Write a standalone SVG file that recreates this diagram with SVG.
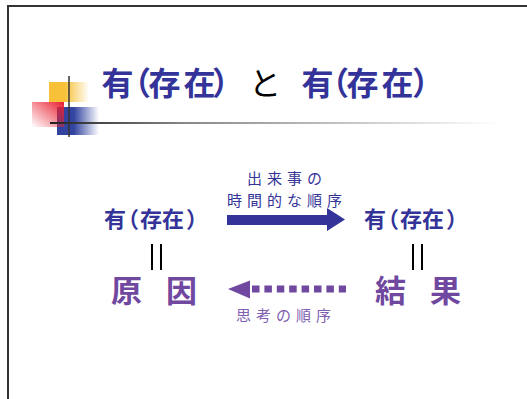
<svg xmlns="http://www.w3.org/2000/svg" width="527" height="399" viewBox="0 0 527 399">
<style>
.t{font-family:"Noto Sans CJK JP","Noto Sans CJK SC",sans-serif}
.blue{fill:#333399}
.purple{fill:#7048a0}
.b{font-weight:bold}
</style>
<defs>
<linearGradient id="gy" x1="0" y1="0" x2="1" y2="0"><stop offset="0.4" stop-color="#f7c13a"/><stop offset="1" stop-color="#f7c13a" stop-opacity="0"/></linearGradient>
<linearGradient id="gb" x1="0" y1="0" x2="1" y2="0"><stop offset="0.4" stop-color="#3344a0"/><stop offset="1" stop-color="#3344a0" stop-opacity="0"/></linearGradient>
<linearGradient id="gr" x1="1" y1="0" x2="0" y2="1"><stop offset="0" stop-color="#e82030"/><stop offset="1" stop-color="#e82030" stop-opacity="0"/></linearGradient>
<linearGradient id="gl" gradientUnits="userSpaceOnUse" x1="50" y1="0" x2="500" y2="0"><stop offset="0" stop-color="#222"/><stop offset="0.3" stop-color="#888"/><stop offset="1" stop-color="#fff"/></linearGradient>
</defs>
<rect width="527" height="399" fill="#fff"/>
<g id="frame">
<path d="M8 399V6H527" fill="none" stroke="#333" stroke-width="2"/>
</g>
<g id="decoration">
<rect x="49" y="82" width="40" height="20" fill="url(#gy)"/>
<rect x="57" y="107" width="42" height="28" fill="url(#gb)"/>
<rect x="32" y="102" width="32" height="25" fill="url(#gr)"/>
<line x1="69" y1="76" x2="69" y2="137" stroke="#333" stroke-width="1.5"/>
<line x1="50" y1="123" x2="500" y2="123" stroke="url(#gl)" stroke-width="2"/>
</g>
<g id="title" class="t" font-size="32">
<text class="blue b" x="101.5 119 148.5 183.5 212" y="95">有（存在）</text>
<text x="249" y="95" fill="#000">と</text>
<text class="blue b" x="301.5 317 346.5 381.5 412" y="95">有（存在）</text>
</g>
<g id="node-left" class="t">
<text class="blue b" font-size="22" x="104 117 140 162 186" y="227">有（存在）</text>
<line x1="152" y1="244" x2="152" y2="270" stroke="#000" stroke-width="2"/>
<line x1="161" y1="244" x2="161" y2="270" stroke="#000" stroke-width="2"/>
<text class="purple b" font-size="31" x="111 140 166" y="302">原 因</text>
</g>
<g id="node-right" class="t">
<text class="blue b" font-size="22" x="364 377 400 422 446" y="227">有（存在）</text>
<line x1="413" y1="244" x2="413" y2="270" stroke="#000" stroke-width="2"/>
<line x1="422" y1="244" x2="422" y2="270" stroke="#000" stroke-width="2"/>
<text class="purple b" font-size="31" x="375 404 430" y="302">結 果</text>
</g>
<g id="connectors">
<path d="M227 215H327V208L345 219.5L327 231V225H227Z" fill="#333399"/>
<text class="t" font-size="15" fill="#333399" letter-spacing="5" x="247" y="184">出来事の</text>
<text class="t" font-size="15" fill="#333399" letter-spacing="5" x="227" y="206">時間的な順序</text>
<path d="M228 289L250 280.5V298.5Z" fill="#7048a0"/>
<line x1="252" y1="289" x2="346" y2="289" stroke="#7048a0" stroke-width="7" stroke-dasharray="7.5 4.9"/>
<text class="t" font-size="15" fill="#8060b0" letter-spacing="5" x="236" y="321">思考の順序</text>
</g>
</svg>
